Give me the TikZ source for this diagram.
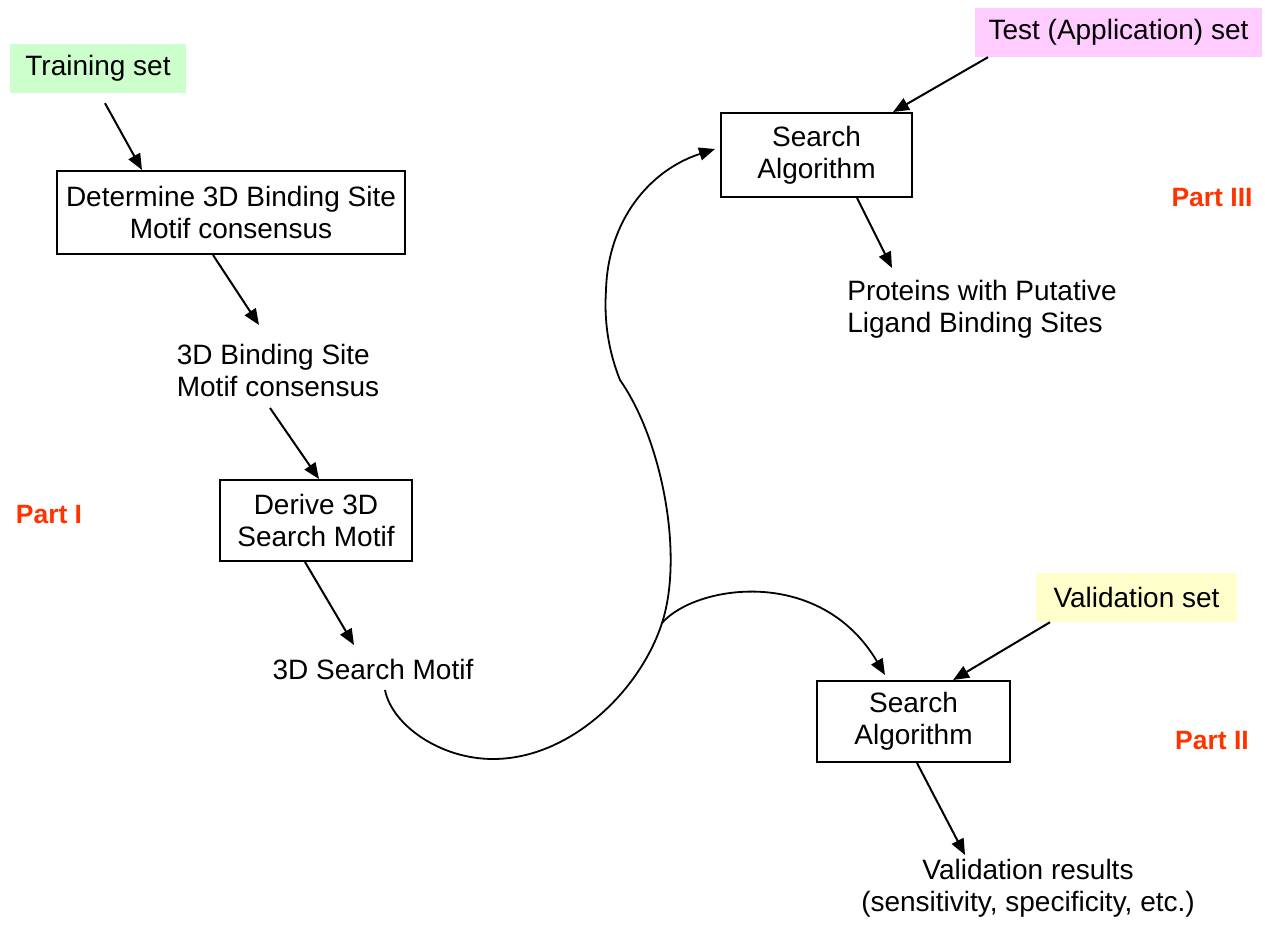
\documentclass[tikz,border=0pt]{standalone}
\usepackage{fontspec}
\setmainfont{Liberation Sans}
\usetikzlibrary{arrows.meta}
\definecolor{trgreen}{HTML}{CCFFCC}
\definecolor{tspink}{HTML}{FFCCFF}
\definecolor{vyellow}{HTML}{FFFFCC}
\definecolor{partred}{HTML}{FF3300}
\begin{document}
\begin{tikzpicture}[x=1pt,y=-1pt,
  every node/.style={font=\fontsize{28}{32}\selectfont, inner sep=0pt},
  procbox/.style={draw, line width=2pt, align=center},
  setlabel/.style={align=center},
  txt/.style={align=left},
  txtc/.style={align=center},
  partlbl/.style={font=\fontsize{26.5}{30}\selectfont\bfseries, text=partred},
  arr/.style={line width=2pt, -{Triangle[length=16pt,width=13pt]}},
  flow/.style={line width=1.8pt}
]
\useasboundingbox (0,0) rectangle (1265,932);

% input sets
\node[setlabel, fill=trgreen, minimum width=176pt, minimum height=49pt] (train) at (98,68.5) {Training set};
\node[setlabel, fill=tspink, minimum width=287pt, minimum height=49pt] (test) at (1118.5,32.5) {Test (Application) set};
\node[setlabel, fill=vyellow, minimum width=201pt, minimum height=49pt] (val) at (1136.5,597.5) {Validation set};

% process boxes
\node[procbox, minimum width=348pt, minimum height=83pt] (b1) at (231,212.5) {Determine 3D Binding Site\\Motif consensus};
\node[procbox, minimum width=192pt, minimum height=81pt] (b2) at (316,520.5) {Derive 3D\\Search Motif};
\node[procbox, minimum width=191pt, minimum height=84pt] (b3) at (816.5,155) {Search\\Algorithm};
\node[procbox, minimum width=193pt, minimum height=81pt] (b4) at (913.5,721.5) {Search\\Algorithm};

% intermediate texts
\node[txt] (m1) at (278,370) {3D Binding Site\\Motif consensus};
\node (m2) at (373,669) {3D Search Motif};
\node[txt] (m3) at (982,309) {Proteins with Putative\\Ligand Binding Sites};
\node[txtc] (m4) at (1028,888) {Validation results\\(sensitivity, specificity, etc.)};

% part labels
\node[partlbl] (p1) at (49,515) {Part I};
\node[partlbl] (p2) at (1212,740) {Part II};
\node[partlbl] (p3) at (1212,198) {Part III};

% straight arrows
\draw[arr] ([xshift=7pt,yshift=-10pt]train.south) -- ([xshift=-89pt]b1.north);
\draw[arr] ([xshift=-18pt]b1.south) -- ([xshift=-19pt,yshift=45pt]m1.center);
\draw[arr] ([xshift=-8pt,yshift=-38pt]m1.center) -- ([xshift=3pt]b2.north);
\draw[arr] ([xshift=-11pt]b2.south) -- ([xshift=-19pt,yshift=24pt]m2.center);
\draw[arr] ([xshift=-130.5pt]test.south) -- ([xshift=76.5pt]b3.north);
\draw[arr] ([xshift=40.5pt]b3.south) -- ([xshift=-90pt,yshift=41pt]m3.center);
\draw[arr] ([xshift=-86.5pt]val.south) -- ([xshift=39.5pt]b4.north);
\draw[arr] ([xshift=3.5pt]b4.south) -- ([xshift=-63pt,yshift=33pt]m4.center);

% curved flow from search motif to both search algorithms
\coordinate (split) at (662,623);
\draw[flow, -{Triangle[length=16pt,width=13pt]}]
  ([xshift=12pt,yshift=-21pt]m2.center)
  .. controls (392,725) and (440,759) .. (493,759)
  .. controls (570,759) and (640,691) .. (split)
  .. controls (684,555) and (662,440) .. (620,380)
  .. controls (608,350) and (604,320) .. (606,290)
  .. controls (608,220) and (650,170) .. ([xshift=-5pt,yshift=6pt]b3.west);
\draw[flow, -{Triangle[length=16pt,width=13pt]}]
  (split) .. controls (695,585) and (820,565) .. ([xshift=-28.5pt,yshift=5pt]b4.north);
\end{tikzpicture}
\end{document}
